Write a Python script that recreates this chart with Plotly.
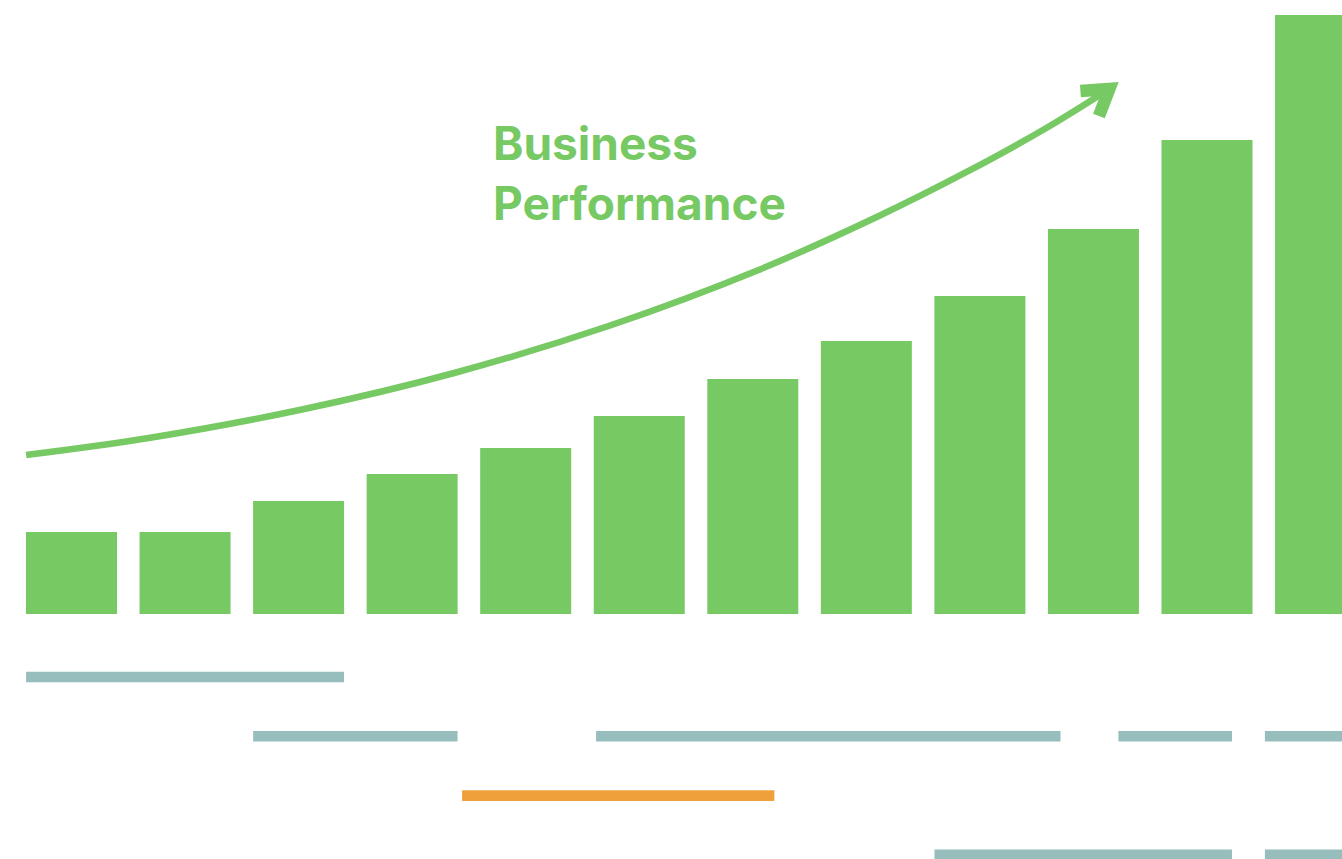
import math
import plotly.graph_objects as go

# ---------------- data ----------------
periods = list(range(12))
performance = [13.69, 13.69, 18.86, 23.37, 27.71, 33.06, 39.23, 45.58, 53.09, 64.27, 79.13, 100.0]

# timeline rows (start / end in period units)
row_names = ["Track A", "Track B", "Track C", "Track D"]
row_a_start = [-0.40]
row_a_end = [2.40]
row_b_start = [1.60, 4.62, 9.22, 10.51]
row_b_end = [3.40, 8.71, 10.22, 11.40]
row_c_start = [3.44]
row_c_end = [6.19]
row_d_start = [7.60, 10.51]
row_d_end = [10.22, 11.40]

# trend arrow (data units)
trend_x = [-0.40, 0.68, 2.05, 3.37, 4.73, 6.04, 7.11, 7.90, 8.57, 9.14]
trend_y = [26.54, 29.38, 34.22, 40.23, 48.08, 57.35, 66.44, 73.96, 80.97, 87.65]

title_text = "Business<br>Performance"

# ---------------- styles ----------------
GREEN = "#77C964"
TEAL = "#97BDBD"
ORANGE = "#F0A03A"
W, H = 1342, 859
XR = [-0.6297, 11.189]
YR = [-40.9, 102.5]
Y2R = [3.07, -11.42]
px_x = W / (XR[1] - XR[0])
px_y = H / (YR[1] - YR[0])

fig = go.Figure()

fig.add_trace(go.Bar(x=periods, y=performance, width=0.8014,
                     marker=dict(color=GREEN, line=dict(width=0)),
                     hoverinfo="skip", showlegend=False))

def add_row(name, starts, ends, color):
    fig.add_trace(go.Bar(orientation="h", y=[name] * len(starts),
                         base=starts, x=[e - s for s, e in zip(starts, ends)],
                         width=0.18, yaxis="y2",
                         marker=dict(color=color, line=dict(width=0)),
                         hoverinfo="skip", showlegend=False))

add_row(row_names[0], row_a_start, row_a_end, TEAL)
add_row(row_names[1], row_b_start, row_b_end, TEAL)
add_row(row_names[2], row_c_start, row_c_end, ORANGE)
add_row(row_names[3], row_d_start, row_d_end, TEAL)

# trend curve
fig.add_trace(go.Scatter(x=trend_x, y=trend_y, mode="lines",
                         line=dict(color=GREEN, width=6.5, shape="spline", smoothing=1.0),
                         hoverinfo="skip", showlegend=False))

# arrow head: two arms from the tip
tx, ty = trend_x[-1], trend_y[-1]
L = 29
arms = []
for ang in (176.0, 111.0):
    a = math.radians(ang)
    arms.append((tx + L * math.cos(a) / px_x, ty - L * math.sin(a) / px_y))
fig.add_trace(go.Scatter(x=[arms[0][0], tx, arms[1][0]], y=[arms[0][1], ty, arms[1][1]],
                         mode="lines", line=dict(color=GREEN, width=12.5),
                         hoverinfo="skip", showlegend=False))

fig.add_annotation(text=title_text, xref="paper", yref="paper",
                   x=491 / W, y=1 - 113 / H, xanchor="left", yanchor="top",
                   align="left", showarrow=False,
                   font=dict(family="Inter", size=46, color=GREEN, weight="bold"))

fig.update_layout(
    width=W, height=H, margin=dict(l=0, r=0, t=0, b=0),
    paper_bgcolor="white", plot_bgcolor="white", barmode="overlay",
    xaxis=dict(range=XR, visible=False, fixedrange=True),
    yaxis=dict(range=YR, visible=False, fixedrange=True),
    yaxis2=dict(range=Y2R, overlaying="y", visible=False, type="category",
                categoryorder="array", categoryarray=row_names, fixedrange=True),
)

fig.write_html("out.html", config={"displayModeBar": False},
               post_script="document.body.style.margin='0';document.body.style.overflow='hidden';")
